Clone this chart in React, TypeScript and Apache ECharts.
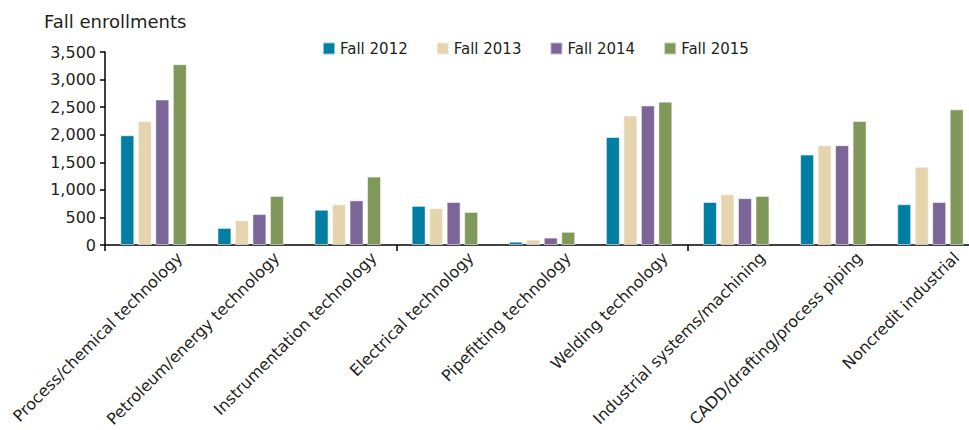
import React, { useEffect, useRef } from "react";
import * as echarts from "echarts";

const categories = [
  "Process/chemical technology",
  "Petroleum/energy technology",
  "Instrumentation technology",
  "Electrical technology",
  "Pipefitting technology",
  "Welding technology",
  "Industrial systems/machining",
  "CADD/drafting/process piping",
  "Noncredit industrial",
];
const seriesNames = ["Fall 2012", "Fall 2013", "Fall 2014", "Fall 2015"];
const fall2012 = [1990, 310, 640, 710, 60, 1960, 780, 1640, 740];
const fall2013 = [2250, 450, 740, 670, 100, 2350, 920, 1810, 1420];
const fall2014 = [2640, 560, 810, 780, 135, 2530, 850, 1810, 780];
const fall2015 = [3280, 890, 1240, 600, 240, 2600, 890, 2250, 2460];
const yTicks = [0, 500, 1000, 1500, 2000, 2500, 3000, 3500];
const colors = ["#007FA3", "#E4D5AF", "#7B6697", "#80995B"];

const FONT = "DejaVu Sans";
const TEXT = "#231F20";

export default function App() {
  const ref = useRef<HTMLDivElement>(null);
  useEffect(() => {
    if (!ref.current) return;
    const chart = echarts.init(ref.current, undefined, { renderer: "svg" });
    const values = [fall2012, fall2013, fall2014, fall2015];
    chart.setOption({
      animation: false,
      backgroundColor: "#ffffff",
      title: {
        text: "Fall enrollments",
        left: 39,
        top: 7,
        textStyle: { fontFamily: FONT, fontSize: 18, fontWeight: "normal", color: TEXT },
      },
      legend: {
        data: seriesNames,
        left: 317,
        top: 36,
        itemWidth: 12,
        itemHeight: 12,
        itemGap: 28,
        icon: "rect",
        textStyle: { fontFamily: FONT, fontSize: 15, color: TEXT },
      },
      grid: [
        { left: 105, top: 52, bottom: 185, width: 874, containLabel: false },
        { left: 131, top: 52, bottom: 185, width: 874, containLabel: false },
      ],
      xAxis: [
        {
          type: "category",
          gridIndex: 0,
          data: categories,
          axisLine: { lineStyle: { color: "#000", width: 1.5 } },
          axisTick: { show: true, length: 6, lineStyle: { color: "#000", width: 1.5 } },
          axisLabel: { show: false },
        },
        {
          type: "category",
          gridIndex: 1,
          data: categories,
          axisLine: { show: false },
          axisTick: { show: false },
          axisLabel: {
            show: true,
            interval: 0,
            rotate: 45,
            margin: 17,
            fontFamily: FONT,
            fontSize: 16,
            color: TEXT,
          },
        },
      ],
      yAxis: [
        {
          type: "value",
          gridIndex: 0,
          min: yTicks[0],
          max: yTicks[yTicks.length - 1],
          interval: 500,
          splitLine: { show: false },
          axisLine: { show: true, lineStyle: { color: "#000", width: 1.5 } },
          axisTick: { show: true, length: 5, lineStyle: { color: "#000", width: 1.5 } },
          axisLabel: {
            margin: 9,
            fontFamily: FONT,
            fontSize: 16,
            color: TEXT,
            formatter: (v: number) => v.toLocaleString("en-US"),
          },
        },
        {
          type: "value",
          gridIndex: 1,
          show: false,
          min: 0,
          max: 3500,
        },
      ],
      series: seriesNames.map((name, i) => ({
        name,
        type: "bar",
        xAxisIndex: 0,
        yAxisIndex: 0,
        data: values[i],
        barWidth: 14,
        barGap: "25%",
        itemStyle: {
          color: colors[i],
          borderColor: "rgba(255,255,255,0.55)",
          borderWidth: 1,
        },
      })),
    });
    return () => chart.dispose();
  }, []);
  return (
    <div
      style={{
        position: "absolute",
        left: 0,
        top: 0,
        width: 969,
        height: 430,
        overflow: "hidden",
        background: "#fff",
      }}
    >
      <div ref={ref} style={{ width: 1020, height: 430 }} />
    </div>
  );
}
